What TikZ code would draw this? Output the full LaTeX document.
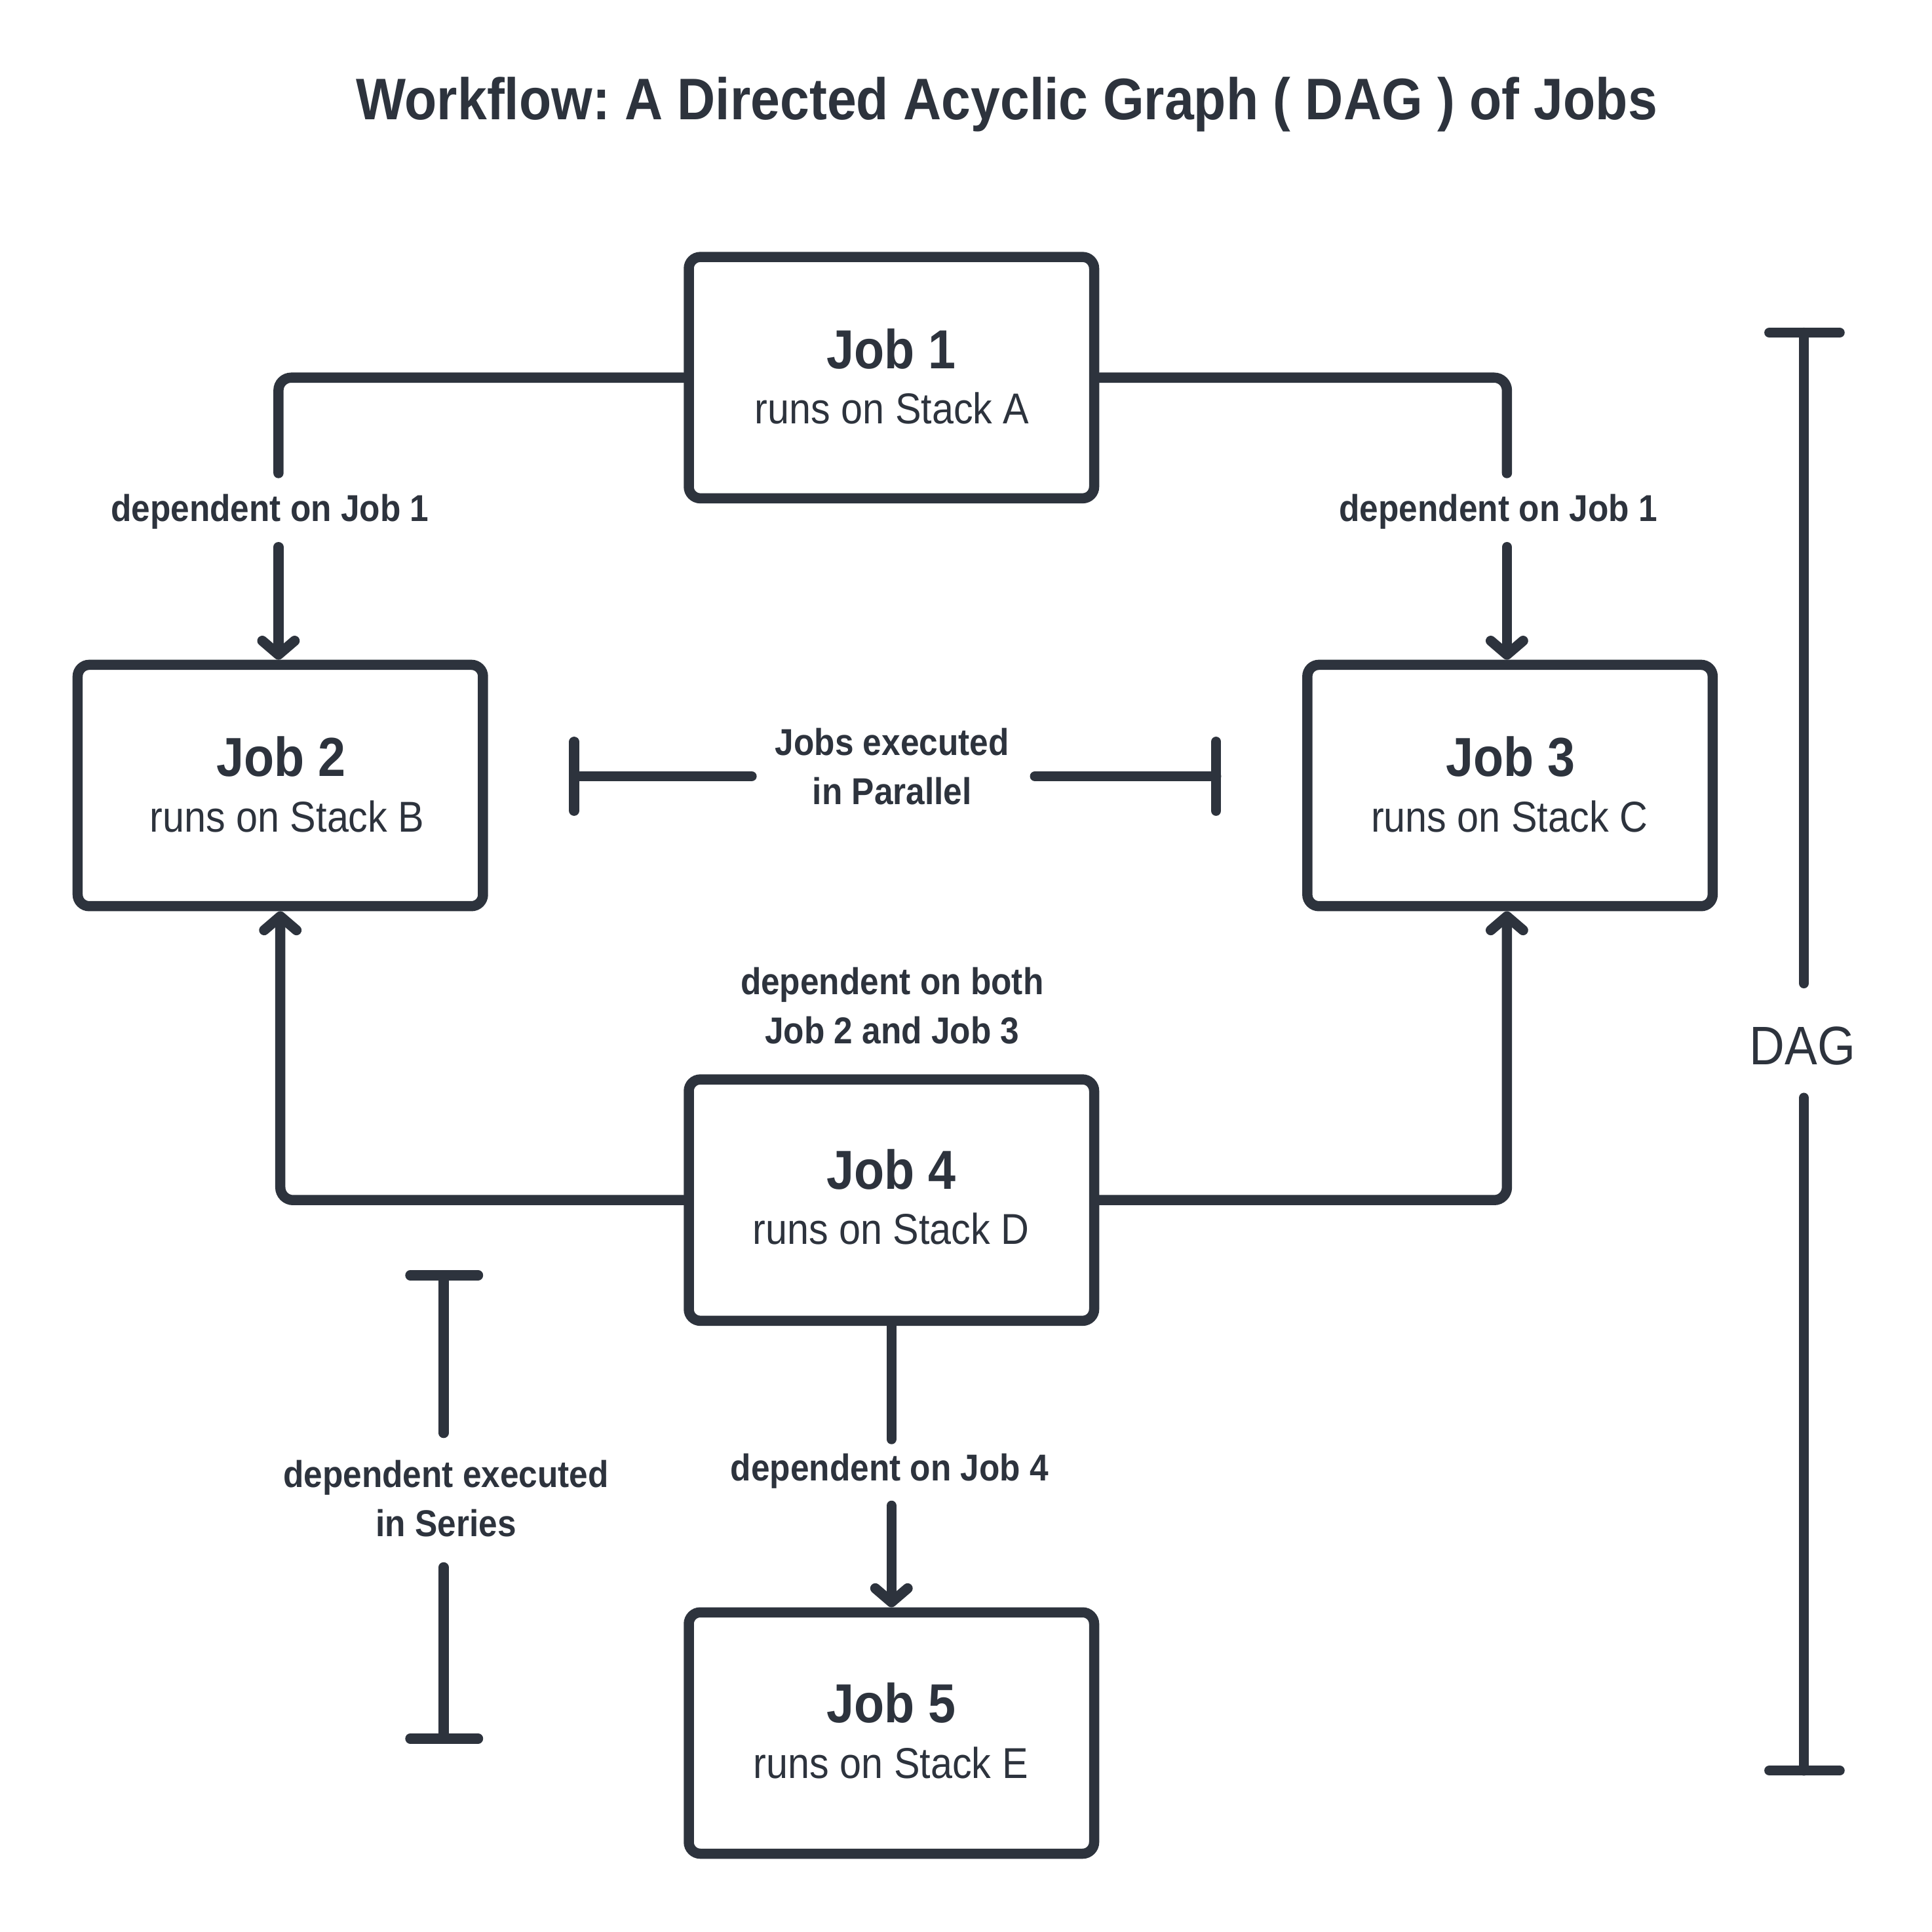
\documentclass[tikz,border=0pt]{standalone}
\usepackage{fontspec}
\setmainfont{Liberation Sans}[FakeStretch=0.9]
\usetikzlibrary{arrows.meta}
\definecolor{ink}{RGB}{45,51,61}
\frenchspacing
\tikzset{
  lw/.style={line width=4.4pt},
  jobbox/.style={draw=ink, lw, rounded corners=5pt, minimum width=175.5pt, minimum height=104.5pt, inner sep=0pt, fill=white},
  jobtitle/.style={text=ink, font=\fontsize{23.8pt}{26pt}\selectfont\bfseries, anchor=base, inner sep=0pt},
  jobsub/.style={text=ink, font=\fontsize{18.7pt}{21pt}\selectfont, anchor=base, inner sep=0pt},
  lbl/.style={text=ink, font=\fontsize{16.2pt}{19pt}\selectfont\bfseries, anchor=base, inner sep=0pt},
  conn/.style={draw=ink, lw, rounded corners=5.5pt, line cap=round},
  arr/.style={draw=ink, lw, line cap=round, -{Straight Barb[length=6pt, width=14pt, line cap=round, line join=round]}},
  brk/.style={draw=ink, lw, line cap=round},
}
\begin{document}
\begin{tikzpicture}[x=0.5335pt, y=-0.5335pt]
\path[use as bounding box, fill=white] (0,0) rectangle (1568,1568);

% title
\node[text=ink, font=\fontsize{25.4pt}{28pt}\selectfont\bfseries, anchor=base, inner sep=0pt] (title) at (817,97) {Workflow: A Directed Acyclic Graph ( DAG ) of Jobs};

% boxes
\node[jobbox] (j1) at (723.5,306.5) {};
\node[jobbox] (j2) at (227.5,637.5) {};
\node[jobbox] (j3) at (1225.5,637.5) {};
\node[jobbox] (j4) at (723.5,974) {};
\node[jobbox] (j5) at (723.5,1406.5) {};

\node[jobtitle] (j1t) at (723.5,299) {Job 1};
\node[jobsub]   (j1s) at (724,344) {runs on Stack A};
\node[jobtitle] (j2t) at (228,630) {Job 2};
\node[jobsub]   (j2s) at (233,675) {runs on Stack B};
\node[jobtitle] (j3t) at (1226,630) {Job 3};
\node[jobsub]   (j3s) at (1225,675) {runs on Stack C};
\node[jobtitle] (j4t) at (723.5,965) {Job 4};
\node[jobsub]   (j4s) at (723,1010) {runs on Stack D};
\node[jobtitle] (j5t) at (723.5,1398) {Job 5};
\node[jobsub]   (j5s) at (723,1443) {runs on Stack E};

% labels
\node[lbl] (l12) at (219,423) {dependent on Job 1};
\node[lbl] (l13) at (1216,423) {dependent on Job 1};
\node[lbl] (l4a) at (724,807) {dependent on both};
\node[lbl] (l4b) at (724,847) {Job 2 and Job 3};
\node[lbl] (l5) at (722,1202) {dependent on Job 4};
\node[lbl] (lpa) at (724,613) {Jobs executed};
\node[lbl] (lpb) at (724,653) {in Parallel};
\node[lbl] (lsa) at (362,1207) {dependent executed};
\node[lbl] (lsb) at (362,1247) {in Series};
\node[text=ink, font=\fontsize{23.5pt}{26pt}\selectfont, anchor=base, inner sep=0pt] (dag) at (1463,864) {DAG};

% connector coordinates
\coordinate (a1) at (226,384);
\coordinate (b1) at (226,444);
\coordinate (a2) at (1223,384);
\coordinate (b2) at (1223,444);
\coordinate (a5) at (723.5,1168);
\coordinate (b5) at (723.5,1222);

% connectors
\draw[conn] (j1.west) -| (a1);
\draw[arr] (b1) -- (b1 |- j2.north);
\draw[conn] (j1.east) -| (a2);
\draw[arr] (b2) -- (b2 |- j3.north);
\draw[conn, -{Straight Barb[length=6pt, width=14pt, line cap=round, line join=round]}] (j4.west) -| (j2.south);
\draw[conn, -{Straight Barb[length=6pt, width=14pt, line cap=round, line join=round]}] (j4.east) -| (a2 |- j3.south);
\draw[conn] (j4.south) -- (j4.south |- a5);
\draw[arr] (b5) -- (b5 |- j5.north);

% parallel bracket
\coordinate (pL) at (466,630);
\coordinate (pR) at (987,630);
\draw[brk] (466,602) -- (466,658);
\draw[brk] (pL) -- (610,630);
\draw[brk] (987,602) -- (987,658);
\draw[brk] (840,630) -- (pR);

% series bracket
\draw[brk] (333,1035) -- (388,1035);
\draw[brk] (360,1035) -- (360,1163);
\draw[brk] (360,1272) -- (360,1411);
\draw[brk] (333,1411) -- (388,1411);

% DAG bracket
\draw[brk] (1436,270) -- (1493,270);
\draw[brk] (1464,270) -- (1464,798);
\draw[brk] (1464,891) -- (1464,1437);
\draw[brk] (1436,1437) -- (1493,1437);
\end{tikzpicture}
\end{document}
